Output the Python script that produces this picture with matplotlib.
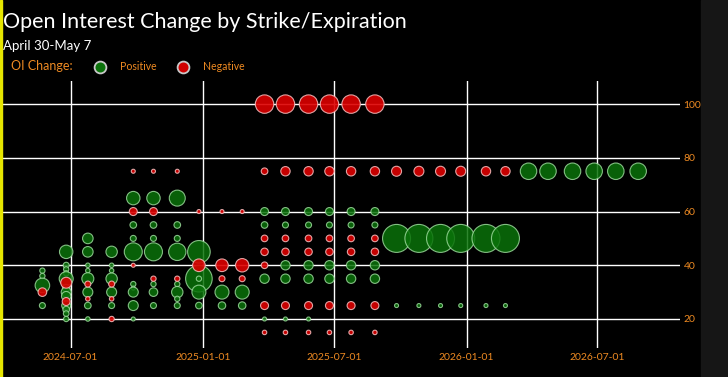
import datetime as dt
import matplotlib
matplotlib.use("Agg")
import matplotlib.pyplot as plt
import matplotlib.dates as mdates
from matplotlib.patches import Rectangle
from matplotlib.lines import Line2D

plt.rcParams['font.family'] = ['Lato', 'DejaVu Sans']

# expirations (one column of bubbles each)
expiry = ["2024-05-23", "2024-06-25", "2024-07-25", "2024-08-27", "2024-09-26",
          "2024-10-24", "2024-11-26", "2024-12-26", "2025-01-27", "2025-02-24",
          "2025-03-27", "2025-04-25", "2025-05-27", "2025-06-25", "2025-07-25",
          "2025-08-27", "2025-09-26", "2025-10-27", "2025-11-26", "2025-12-24",
          "2026-01-28", "2026-02-24", "2026-03-28", "2026-04-24", "2026-05-28",
          "2026-06-27", "2026-07-27", "2026-08-27"]

# strikes with an OI change, per expiration
strikes = [
    [38, 36, 32.5, 30, 25],
    [45, 40, 38.5, 37, 35, 33.5, 31.5, 30, 28.5, 26.5, 25, 23.5, 22, 20],
    [50, 45, 40, 38, 35, 33, 30, 27.5, 25, 20],
    [45, 40, 38, 35, 33, 30, 27.5, 25, 20],
    [75, 65, 60, 55, 50, 45, 40, 33, 31.5, 30, 25, 20],
    [75, 65, 60, 55, 50, 45, 35, 33, 30, 25],
    [75, 65, 55, 50, 45, 35, 33, 30, 27.5, 25],
    [60, 45, 40, 35, 35, 30, 25],
    [60, 40, 35, 30, 25],
    [60, 40, 35, 30, 25],
    [100, 75, 60, 55, 50, 45, 40, 35, 25, 20, 15],
    [100, 75, 60, 55, 50, 45, 40, 35, 25, 20, 15],
    [100, 75, 60, 55, 50, 45, 40, 35, 25, 20, 15],
    [100, 75, 60, 55, 50, 45, 40, 35, 25, 15],
    [100, 75, 60, 55, 50, 45, 40, 35, 25, 15],
    [100, 75, 60, 55, 50, 45, 40, 35, 25, 15],
    [75, 50, 25],
    [75, 50, 25],
    [75, 50, 25],
    [75, 50, 25],
    [75, 50, 25],
    [75, 50, 25],
    [75], [75], [75], [75], [75], [75],
]

# OI change (contracts), same order as strikes
changes = [
    [700, 700, 5300, -1850, 900],
    [4500, 900, 700, 700, 4900, -3000, 1400, 2500, 2200, -1600, 2000, 1100, 800, 700],
    [2800, 2800, 500, 500, 3600, -900, 2500, -500, 1100, 500],
    [3250, 500, 500, 3250, -900, 2500, -500, 900, -700],
    [-400, 4500, -1600, 1100, 900, 8100, -400, 700, 400, 2500, 2500, 400],
    [-400, 4500, -1600, 1100, 900, 8100, -700, 700, 1850, 900],
    [-400, 6400, 1100, 900, 7500, -700, 700, 3250, 700, 900],
    [-400, 12800, -4000, 17700, 700, 4900, 1100],
    [-400, -4000, -900, 4900, 1400],
    [-400, -4500, -900, 4900, 1400],
    [-8500, -1100, 1600, 1100, -1100, -1400, -1100, 2200, -1600, 400, -500],
    [-8500, -2200, 1600, 900, -1100, -1400, 2200, 2200, -1600, 400, -500],
    [-8500, -2200, 1600, 900, -1100, -1400, 2200, 2200, -1600, 400, -500],
    [-8500, -2200, 1600, 900, -1100, -1400, 2200, 2200, -1600, -500],
    [-8500, -2200, 1600, 900, -1100, -1400, 2200, 2200, -1600, -500],
    [-8500, -2200, 1600, 900, -1100, -1400, 2200, 2200, -1600, -500],
    [-2500, 19600, 400],
    [-2500, 19600, 400],
    [-2500, 19600, 400],
    [-2500, 19600, 400],
    [-2200, 19600, 400],
    [-2200, 19600, 400],
    [6800], [6800], [6800], [6800], [6800], [6800],
]

x_ticks = ["2024-07-01", "2025-01-01", "2025-07-01", "2026-01-01", "2026-07-01"]
y_ticks = [20, 40, 60, 80, 100]

orange = '#ee8a22'
green_face, green_edge = '#0a720a', '#9ad89a'
red_face, red_edge = '#dc0000', '#f0b4b4'

W, H = 728, 377
fig = plt.figure(figsize=(W / 100, H / 100), dpi=100, facecolor='black')
ax = fig.add_axes([2 / W, 1 - 348 / H, 678 / W, 267 / H])
ax.set_facecolor('black')

def day(s):
    return dt.datetime.strptime(s, "%Y-%m-%d")

# split into positive / negative bubbles, positives drawn first
pos = ([], [], [])
neg = ([], [], [])
for e, ks, vs in zip(expiry, strikes, changes):
    for k, v in zip(ks, vs):
        grp = pos if v > 0 else neg
        grp[0].append(day(e))
        grp[1].append(k)
        grp[2].append(abs(v) * 0.0207)

ax.scatter(pos[0], pos[1], s=pos[2], c=green_face, edgecolors=green_edge,
           linewidths=0.8, alpha=0.85, zorder=3)
ax.scatter(neg[0], neg[1], s=neg[2], c=red_face, edgecolors=red_edge,
           linewidths=0.8, alpha=0.9, zorder=4)

ax.set_xlim(day("2024-03-28"), day("2026-10-24"))
ax.set_ylim(9.2, 108.6)
ax.set_xticks([day(t) for t in x_ticks])
ax.xaxis.set_major_formatter(mdates.DateFormatter('%Y-%m-%d'))
ax.set_yticks(y_ticks)
ax.yaxis.tick_right()
ax.grid(True, color='white', linewidth=1.0, zorder=0)
ax.set_axisbelow(True)
for sp in ax.spines.values():
    sp.set_visible(False)
ax.tick_params(axis='x', length=0, pad=3.5, labelcolor=orange, labelsize=7.5)
ax.tick_params(axis='y', length=0, pad=2.5, labelcolor=orange, labelsize=7.5)

# frame details
fig.add_artist(Rectangle((0, 0), 2 / W, 1, transform=fig.transFigure,
                         color='#e6e600', zorder=10))
fig.add_artist(Rectangle((701 / W, 0), 27 / W, 1, transform=fig.transFigure,
                         color='#161616', zorder=1))

# titles
fig.text(3 / W, 1 - 28 / H, "Open Interest Change by Strike/Expiration",
         color='white', fontsize=15.5, va='baseline', ha='left')
fig.text(3 / W, 1 - 50 / H, "April 30-May 7", color='white', fontsize=9.5,
         va='baseline', ha='left')

# legend
fig.text(11 / W, 1 - 70.5 / H, "OI Change:", color=orange, fontsize=9,
         va='baseline', ha='left')
fig.add_artist(Line2D([100 / W], [1 - 66.7 / H], transform=fig.transFigure,
                      marker='o', markersize=8.5, markerfacecolor='#0a720a',
                      markeredgecolor='#c8c8c8', markeredgewidth=1.3, linestyle=''))
fig.text(120 / W, 1 - 70.5 / H, "Positive", color=orange, fontsize=7.6,
         va='baseline', ha='left')
fig.add_artist(Line2D([183 / W], [1 - 66.7 / H], transform=fig.transFigure,
                      marker='o', markersize=8.5, markerfacecolor='#d00000',
                      markeredgecolor='#c8c8c8', markeredgewidth=1.3, linestyle=''))
fig.text(203 / W, 1 - 70.5 / H, "Negative", color=orange, fontsize=7.6,
         va='baseline', ha='left')

fig.savefig("out.png", dpi=100, facecolor='black')
